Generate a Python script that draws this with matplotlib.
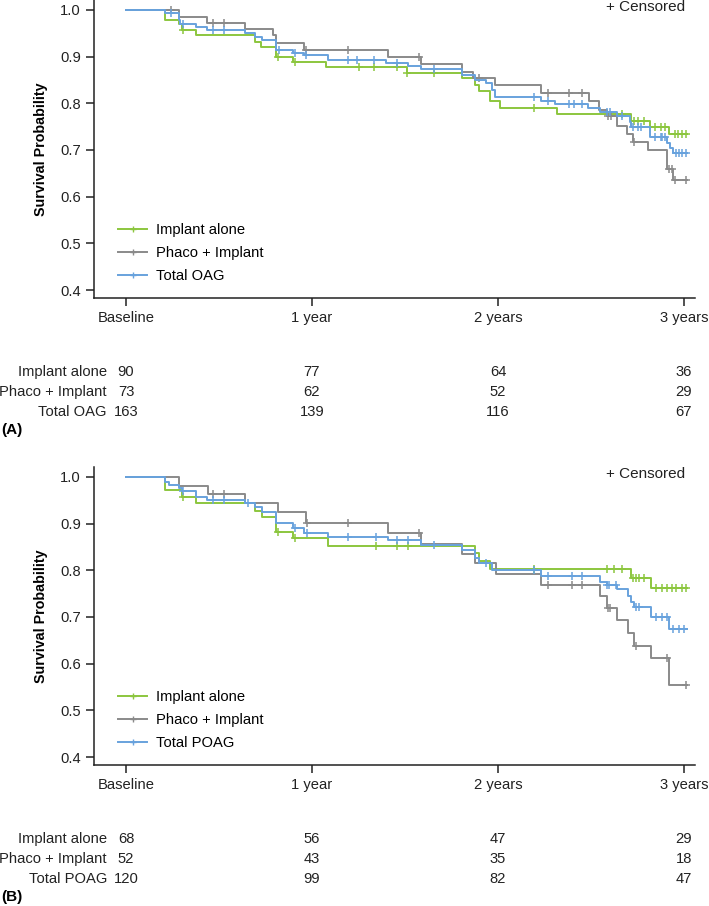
import numpy as np
import matplotlib
matplotlib.use("Agg")
import matplotlib.pyplot as plt
from matplotlib.transforms import blended_transform_factory

plt.rcParams["font.family"] = ["Liberation Sans", "DejaVu Sans"]

GREEN = "#8cc63e"
GRAY = "#8a8a8a"
BLUE = "#68a2dd"
FS = 10.6

# x axis in months
tick_months = [0, 12, 24, 36]
tick_labels = ["Baseline", "1 year", "2 years", "3 years"]
group_names = ["Implant alone", "Phaco + Implant"]

# ---- Panel A (OAG) ----
a_impl_t = [0, 2.5, 3.4, 3.6, 4.5, 8.3, 8.7, 9.7, 10.8, 12.9, 18.1, 21.7, 22.5,
            22.8, 23.5, 24.1, 27.8, 32.6, 33.8, 35.0]
a_impl_s = [1.0, 0.979, 0.971, 0.957, 0.946, 0.932, 0.921, 0.899, 0.889, 0.877,
            0.864, 0.854, 0.839, 0.827, 0.804, 0.791, 0.778, 0.763, 0.750, 0.734]
a_impl_c = [3.7, 9.8, 10.9, 15.0, 16.0, 17.5, 18.1, 19.9, 26.3, 32.0, 32.8, 33.0,
            33.4, 34.1, 34.5, 34.8, 35.4, 35.6, 35.9, 36.1]

a_phaco_t = [0, 3.4, 5.2, 7.7, 9.5, 9.7, 11.5, 16.9, 19.0, 21.7, 22.4, 23.8, 26.8,
             29.9, 30.5, 31.0, 31.7, 32.3, 32.7, 33.7, 34.9, 35.3]
a_phaco_s = [1.0, 0.986, 0.973, 0.959, 0.946, 0.929, 0.914, 0.900, 0.884, 0.868,
             0.854, 0.839, 0.822, 0.804, 0.786, 0.772, 0.752, 0.734, 0.717, 0.699,
             0.659, 0.636]
a_phaco_c = [2.9, 5.6, 6.3, 11.6, 14.3, 18.9, 22.8, 27.2, 28.6, 29.4, 31.1, 31.3,
             32.8, 35.0, 35.2, 35.4, 36.1]

a_total_t = [0, 2.5, 3.4, 3.5, 4.5, 5.2, 7.7, 8.3, 8.8, 9.7, 10.8, 11.5, 13.0, 16.8,
             18.2, 19.0, 21.7, 22.5, 23.2, 23.6, 23.8, 26.8, 27.7, 29.8, 30.6, 31.7,
             32.5, 32.6, 33.8, 34.9, 35.1, 35.3]
a_total_s = [1.0, 0.993, 0.979, 0.971, 0.964, 0.957, 0.950, 0.943, 0.936, 0.914,
             0.907, 0.903, 0.893, 0.886, 0.879, 0.873, 0.861, 0.850, 0.843, 0.829,
             0.813, 0.806, 0.799, 0.790, 0.782, 0.772, 0.761, 0.750, 0.727, 0.714,
             0.704, 0.693]
a_total_c = [2.9, 3.7, 5.6, 6.3, 9.9, 10.9, 11.6, 14.3, 14.9, 16.0, 17.5, 19.9, 26.3,
             27.2, 28.6, 28.9, 29.4, 31.0, 31.2, 32.0, 32.7, 33.0, 33.2, 34.1, 34.5,
             34.6, 34.8, 35.5, 35.7, 35.9, 36.1]

a_at_risk = [[90, 77, 64, 36], [73, 62, 52, 29], [163, 139, 116, 67]]

# ---- Panel B (POAG) ----
b_impl_t = [0, 2.5, 3.6, 4.5, 8.3, 8.8, 9.7, 10.8, 13.0, 22.5, 22.8, 23.5, 32.6, 33.9]
b_impl_s = [1.0, 0.972, 0.957, 0.944, 0.927, 0.914, 0.883, 0.869, 0.852, 0.837,
            0.819, 0.802, 0.783, 0.762]
b_impl_c = [3.7, 9.8, 10.9, 16.1, 17.5, 18.2, 26.3, 31.0, 31.5, 32.0, 32.7, 32.9,
            33.1, 33.4, 34.2, 34.6, 34.9, 35.2, 35.5, 35.9, 36.1]

b_phaco_t = [0, 3.4, 5.3, 7.7, 9.8, 11.6, 16.9, 19.0, 21.7, 22.5, 23.9, 26.8, 30.6,
             31.0, 31.7, 32.4, 32.8, 33.9, 35.0]
b_phaco_s = [1.0, 0.981, 0.963, 0.944, 0.924, 0.901, 0.881, 0.857, 0.835, 0.815,
             0.792, 0.769, 0.744, 0.719, 0.694, 0.665, 0.638, 0.613, 0.555]
b_phaco_c = [5.6, 6.3, 11.7, 14.3, 18.9, 27.2, 28.8, 29.4, 31.1, 31.2, 32.9, 34.9,
             36.1]

b_total_t = [0, 2.5, 2.8, 3.4, 3.6, 4.5, 5.2, 7.7, 8.3, 8.8, 9.7, 10.8, 11.5, 13.0,
             16.9, 19.0, 21.7, 22.5, 22.8, 23.6, 26.8, 30.6, 31.0, 31.7, 32.4, 32.6,
             32.8, 33.9, 35.0]
b_total_s = [1.0, 0.990, 0.983, 0.976, 0.969, 0.958, 0.951, 0.945, 0.936, 0.926,
             0.901, 0.890, 0.881, 0.872, 0.864, 0.854, 0.844, 0.826, 0.815, 0.801,
             0.788, 0.776, 0.769, 0.760, 0.744, 0.733, 0.722, 0.700, 0.674]
b_total_c = [3.7, 5.6, 6.3, 7.9, 10.9, 11.7, 14.3, 16.1, 17.5, 18.2, 19.9, 23.2,
             26.3, 27.2, 28.8, 29.4, 31.05, 31.15, 31.6, 32.9, 33.1, 34.2, 34.6, 34.9,
             35.3, 35.7, 36.0]

b_at_risk = [[68, 56, 47, 29], [52, 43, 35, 18], [120, 99, 82, 47]]

END_MONTH = 36.2
W, H = 709, 906


def draw_km(ax, t, s, cens, color):
    t = np.asarray(t, dtype=float)
    s = np.asarray(s, dtype=float)
    tt = np.append(t, END_MONTH)
    ss = np.append(s, s[-1])
    ax.step(tt, ss, where="post", color=color, lw=1.4)
    c = np.asarray(cens, dtype=float)
    idx = np.searchsorted(t, c, side="right") - 1
    ax.plot(c, s[idx], ls="none", marker="+", ms=5.5, mew=1.1, color=color)


def draw_panel(fig, top_px, curves, total_name, at_risk, tag):
    ax = fig.add_axes([94 / W, 1 - (top_px + 298) / H, 601 / W, 298 / H])
    for (t, s, c), col in zip(curves, [GREEN, GRAY, BLUE]):
        draw_km(ax, t, s, c, col)
    ax.set_xlim(-32 / 15.5, 36 + 11 / 15.5)
    ax.set_ylim(0.4 - 8 / 466.7, 1.0 + 10 / 466.7)
    ax.set_yticks([0.4, 0.5, 0.6, 0.7, 0.8, 0.9, 1.0])
    ax.set_yticklabels(["0.4", "0.5", "0.6", "0.7", "0.8", "0.9", "1.0"])
    ax.set_xticks(tick_months)
    ax.set_xticklabels(tick_labels)
    ax.tick_params(labelsize=FS, length=5.5, width=1.1, pad=4, colors="#222222")
    for side in ["top", "right"]:
        ax.spines[side].set_visible(False)
    for side in ["left", "bottom"]:
        ax.spines[side].set_linewidth(1.1)
        ax.spines[side].set_color("#222222")
    ax.set_ylabel("Survival Probability", fontsize=10.3, fontweight="bold",
                  labelpad=9)

    handles = [plt.Line2D([], [], color=col, lw=1.4, marker="+", ms=5, mew=1)
               for col in [GREEN, GRAY, BLUE]]
    ax.legend(handles, group_names + [total_name], loc="upper left",
              bbox_to_anchor=(0.03, 0.27), frameon=False, fontsize=FS,
              handlelength=2.0, handletextpad=0.6, labelspacing=0.6,
              borderaxespad=0)

    fig.text(606 / W, 1 - (top_px + 7) / H, "+ Censored", fontsize=FS + 0.4,
             va="center", ha="left", color="#222222")

    # number at risk table
    tr = blended_transform_factory(ax.transData, fig.transFigure)
    row_y = [372, 392, 412]
    names = group_names + [total_name]
    for name, counts, y in zip(names, at_risk, row_y):
        yf = 1 - (top_px + y) / H
        fig.text(107 / W, yf, name, ha="right", va="center", fontsize=FS,
                 color="#222222")
        for m, n in zip(tick_months, counts):
            ax.text(m, yf, str(n), transform=tr, ha="center", va="center",
                    fontsize=FS, color="#222222")
    fig.text(1 / W, 1 - (top_px + 430) / H, tag, fontsize=11, fontweight="bold",
             va="center", ha="left")
    return ax


fig = plt.figure(figsize=(W / 100, H / 100), dpi=100)

draw_panel(fig, 0,
           [(a_impl_t, a_impl_s, a_impl_c),
            (a_phaco_t, a_phaco_s, a_phaco_c),
            (a_total_t, a_total_s, a_total_c)],
           "Total OAG", a_at_risk, "(A)")
draw_panel(fig, 467,
           [(b_impl_t, b_impl_s, b_impl_c),
            (b_phaco_t, b_phaco_s, b_phaco_c),
            (b_total_t, b_total_s, b_total_c)],
           "Total POAG", b_at_risk, "(B)")

fig.savefig("out.png", dpi=100)
